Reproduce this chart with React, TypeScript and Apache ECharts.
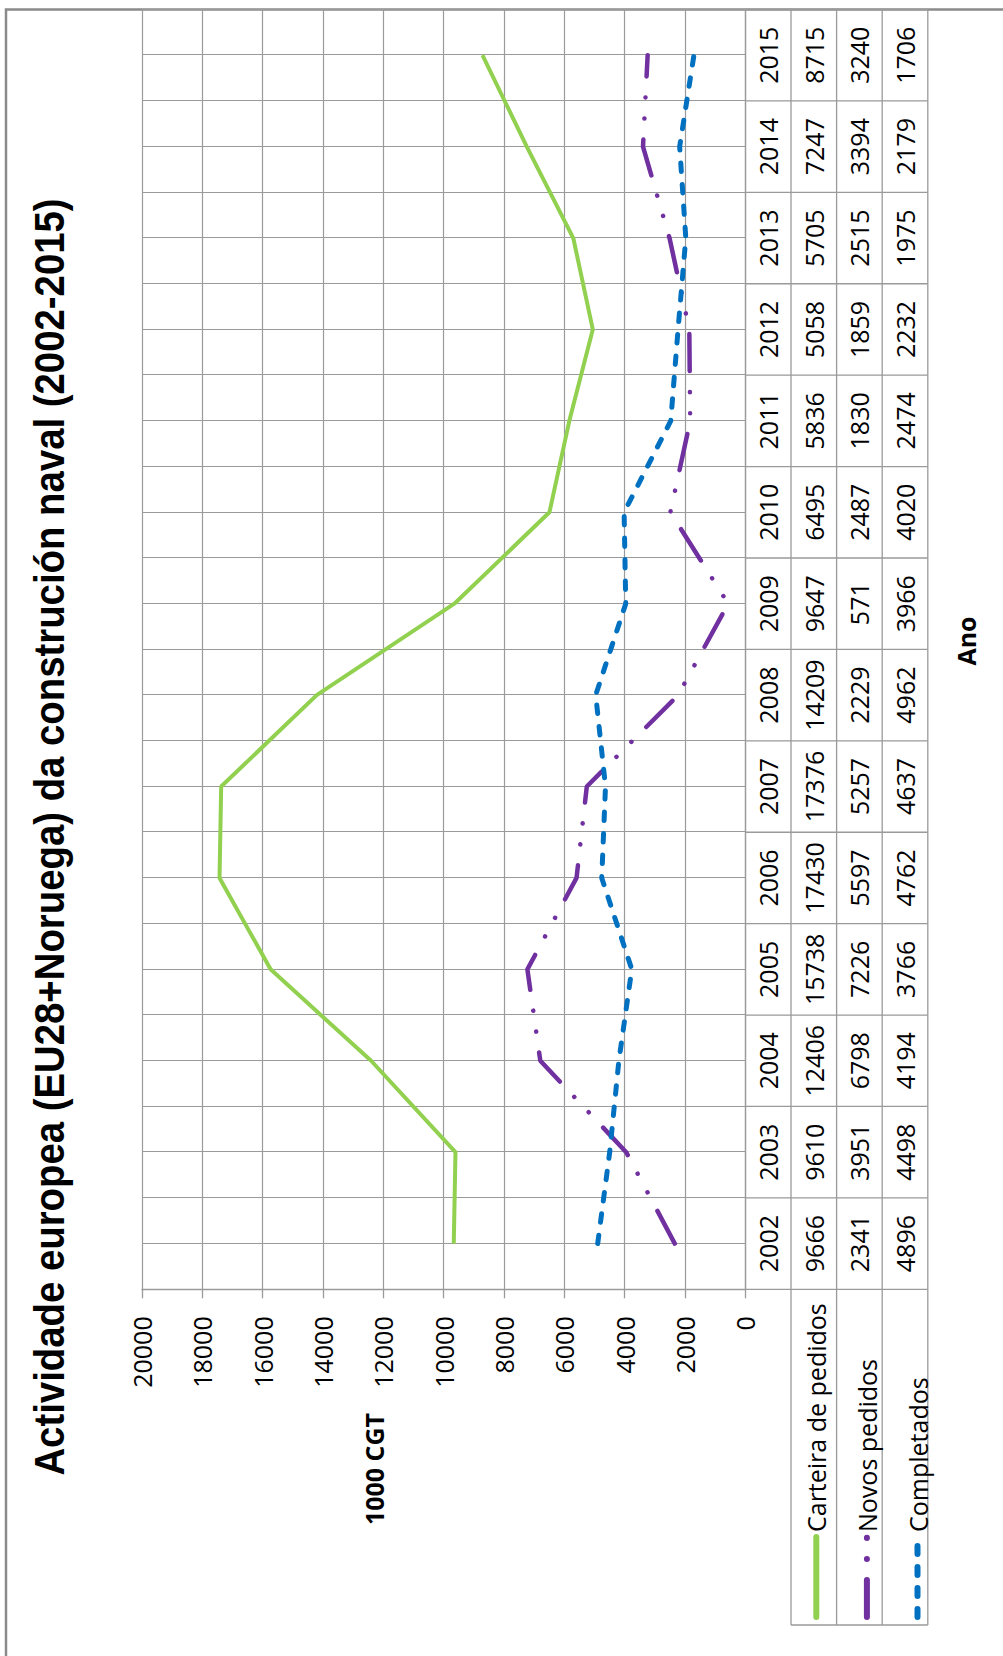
import React, { useEffect, useRef } from "react";
import * as echarts from "echarts";

const years = ["2002", "2003", "2004", "2005", "2006", "2007", "2008", "2009", "2010", "2011", "2012", "2013", "2014", "2015"];
const carteira = [9666, 9610, 12406, 15738, 17430, 17376, 14209, 9647, 6495, 5836, 5058, 5705, 7247, 8715];
const novos = [2341, 3951, 6798, 7226, 5597, 5257, 2229, 571, 2487, 1830, 1859, 2515, 3394, 3240];
const completados = [4896, 4498, 4194, 3766, 4762, 4637, 4962, 3966, 4020, 2474, 2232, 1975, 2179, 1706];
const seriesNames = ["Carteira de pedidos", "Novos pedidos", "Completados"];
const title = "Actividade europea (EU28+Noruega) da construción naval (2002-2015)";
const yName = "1000 CGT";
const xName = "Ano";

// landscape canvas, rotated -90deg onto the portrait page
const W = 1656;
const H = 1003;
const GL = 366.7;
const GR = 1646.5;
const GT = 142;
const GB = 745.4;
const ROW = 45.6;
const FONT = "'Open Sans', 'Noto Sans', sans-serif";
const GRAY = "#9a9a9a";
const TITLE_FONT = "'Liberation Sans', Arial, sans-serif";
const TITLE_SIZE = 42;
const TITLE_LEN = 1278;

const styles = [
  { color: "#92D050", width: 4, type: "solid" as any, cap: "butt" },
  { color: "#7030A0", width: 4.5, type: [37, 21, 0.1, 21, 0.1, 21], cap: "round" },
  { color: "#0070C0", width: 5, type: [8.5, 13], cap: "round" },
];
const legendStyles = [
  { width: 6, type: "solid" as any },
  { width: 6, type: [37, 21, 0.1, 21, 0.1, 21] },
  { width: 6, type: [8, 13] },
];

export default function App() {
  const ref = useRef<HTMLDivElement>(null);
  useEffect(() => {
    const chart = echarts.init(ref.current as HTMLDivElement, null, { renderer: "svg" });
    const n = years.length;
    const catW = (GR - GL) / n;

    // measure title to condense it to the reference length
    let titleScale = 0.8;
    try {
      const ctx = document.createElement("canvas").getContext("2d");
      if (ctx) {
        ctx.font = `bold ${TITLE_SIZE}px ${TITLE_FONT}`;
        const w = ctx.measureText(title).width;
        if (w > 0) titleScale = TITLE_LEN / w;
      }
    } catch (e) {}

    const tableAxis = (data: string[], k: number) => ({
      type: "category",
      data,
      gridIndex: 0,
      position: "bottom",
      offset: k * ROW,
      axisLine: { show: false },
      axisTick: { show: false },
      splitLine: { show: false },
      axisLabel: {
        interval: 0,
        margin: ROW / 2,
        verticalAlign: "middle",
        fontSize: 25,
        fontFamily: FONT,
        color: "#000",
      },
    });

    const lines: any[] = [];
    const seg = (x1: number, y1: number, x2: number, y2: number) =>
      lines.push({
        type: "line",
        silent: true,
        shape: { x1, y1, x2, y2 },
        style: { stroke: GRAY, lineWidth: 1.3 },
      });
    for (let i = 0; i <= n; i++) {
      const x = GL + i * catW;
      seg(x, GB, x, GB + 4 * ROW);
    }
    for (let k = 1; k <= 4; k++) seg(31, GB + k * ROW, GR, GB + k * ROW);
    seg(31, GB + ROW, 31, GB + 4 * ROW);

    const option: any = {
      animation: false,
      backgroundColor: "#fff",
      grid: { left: GL, right: W - GR, top: GT, bottom: H - GB, containLabel: false },
      xAxis: [
        {
          type: "category",
          data: years,
          boundaryGap: true,
          position: "bottom",
          axisLine: { show: true, lineStyle: { color: GRAY, width: 1.3 } },
          axisTick: { show: false },
          splitLine: { show: false },
          axisLabel: {
            interval: 0,
            margin: ROW / 2,
            verticalAlign: "middle",
            fontSize: 25,
            fontFamily: FONT,
            color: "#000",
          },
        },
        tableAxis(carteira.map(String), 1),
        tableAxis(novos.map(String), 2),
        tableAxis(completados.map(String), 3),
        {
          type: "value",
          gridIndex: 0,
          position: "top",
          min: 0,
          max: n,
          interval: 0.5,
          axisLine: { show: false },
          axisTick: { show: false },
          axisLabel: { show: false },
          splitLine: { show: true, lineStyle: { color: GRAY, width: 1.2 } },
        },
      ],
      yAxis: {
        type: "value",
        min: 0,
        max: 20000,
        interval: 2000,
        axisLine: { show: true, lineStyle: { color: GRAY, width: 1.3 } },
        axisTick: { show: true, length: 9, lineStyle: { color: GRAY, width: 1.3 } },
        axisLabel: {
          fontSize: 25,
          fontFamily: FONT,
          color: "#000",
          margin: 27,
          formatter: (v: number) => String(v),
        },
        splitLine: { show: true, lineStyle: { color: GRAY, width: 1.2 } },
      },
      legend: {
        orient: "vertical",
        left: 36,
        top: GB + ROW + ROW / 2 - 10,
        itemWidth: 80,
        itemHeight: 20,
        itemGap: ROW - 20,
        padding: 0,
        itemStyle: { opacity: 0, borderWidth: 0 },
        textStyle: { fontSize: 25, fontFamily: FONT, color: "#000", lineHeight: 20 },
        data: seriesNames.map((name, i) => ({
          name,
          itemStyle: { opacity: 0, borderWidth: 0 },
          lineStyle: {
            width: legendStyles[i].width,
            type: legendStyles[i].type,
            color: styles[i].color,
            cap: "round",
          },
        })),
      },
      series: [carteira, novos, completados].map((data, i) => ({
        name: seriesNames[i],
        type: "line",
        data,
        symbol: "none",
        itemStyle: { color: styles[i].color },
        lineStyle: { color: styles[i].color, width: styles[i].width, type: styles[i].type, cap: styles[i].cap },
      })),
      graphic: [
        {
          type: "rect",
          silent: true,
          shape: { x: -10, y: 6, width: GR + 10, height: H + 20 },
          style: { fill: "none", stroke: "#8a8a8a", lineWidth: 2.5 },
        },
        ...lines,
        {
          type: "text",
          silent: true,
          x: 819,
          y: 50,
          scaleX: titleScale,
          style: {
            text: title,
            fontSize: TITLE_SIZE,
            fontWeight: "bold",
            fontFamily: TITLE_FONT,
            fill: "#000",
            align: "center",
            verticalAlign: "middle",
          },
        },
        {
          type: "text",
          silent: true,
          x: 187,
          y: 374,
          style: {
            text: yName,
            fontSize: 25,
            fontWeight: "bold",
            fontFamily: FONT,
            fill: "#000",
            align: "center",
            verticalAlign: "middle",
          },
        },
        {
          type: "text",
          silent: true,
          x: 1015,
          y: 966,
          style: {
            text: xName,
            fontSize: 25,
            fontWeight: "bold",
            fontFamily: FONT,
            fill: "#000",
            align: "center",
            verticalAlign: "middle",
          },
        },
      ],
    };
    chart.setOption(option);
    return () => chart.dispose();
  }, []);

  return (
    <div
      ref={ref}
      style={{
        position: "absolute",
        left: 0,
        top: 0,
        width: W + "px",
        height: H + "px",
        background: "#fff",
        transformOrigin: "0 0",
        transform: `translateY(${W}px) rotate(-90deg)`,
      }}
    />
  );
}
